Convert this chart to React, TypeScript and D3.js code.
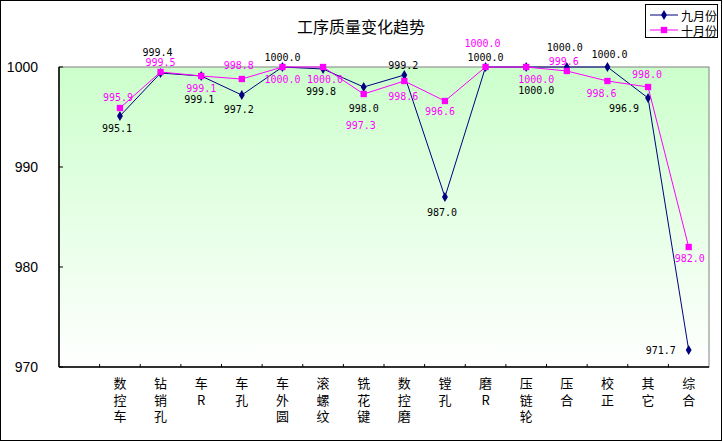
import React, { useEffect, useRef } from "react";
import * as d3 from "d3";

// first slot is empty in the original sheet
const categories = ["", "数控车", "钻销孔", "车R", "车孔", "车外圆", "滚螺纹", "铣花键", "数控磨", "镗孔", "磨R", "压链轮", "压合", "校正", "其它", "综合"];
const septValues = [995.1, 999.4, 999.1, 997.2, 1000.0, 999.8, 998.0, 999.2, 987.0, 1000.0, 1000.0, 1000.0, 1000.0, 996.9, 971.7];
const octValues = [995.9, 999.5, 999.1, 998.8, 1000.0, 1000.0, 997.3, 998.6, 996.6, 1000.0, 1000.0, 999.6, 998.6, 998.0, 982.0];
const yTicks = [970, 980, 990, 1000];
const seriesNames = ["九月份", "十月份"];

// data label offsets from each point (layout only)
const septLabelDx = [-3, -3, -2, -3, 0, -2, 0, -1, -3, 0, 10, -2, 2, -24, -28];
const septLabelDy = [12, -21, 23, 14, -10, 22, 21, -10, 15, -10, 23, -20, -13, 10, 0];
const octLabelDx = [-2, 0, 0, -3, 0, 2, -3, -1, -5, -3, 10, -3, -6, -1, 1];
const octLabelDy = [-11, -10, 12, -14, 12, 12, 31, 15, 10, -24, 12, -10, 12, -13, 11];

const W = 723;
const H = 442;
const plot = { left: 59, right: 709, top: 67, bottom: 367 };
const navy = "#000080";
const pink = "#ff00ff";
const labelFont = "'DejaVu Sans Mono', monospace";
const cjkFont = "'Noto Sans CJK SC', sans-serif";

export default function App() {
  const ref = useRef<SVGSVGElement>(null);

  useEffect(() => {
    const svg = d3.select(ref.current);
    svg.selectAll("*").remove();

    const x = d3.scaleBand().domain(categories).range([plot.left, plot.right]);
    const y = d3.scaleLinear().domain([970, 1000]).range([plot.bottom, plot.top]);
    const cx = (i: number) => (x(categories[i + 1]) as number) + x.bandwidth() / 2;

    svg.append("rect").attr("x", 0).attr("y", 0).attr("width", W).attr("height", H).attr("fill", "#fff");
    svg.append("rect").attr("x", 0.5).attr("y", 0.5).attr("width", W - 2).attr("height", H - 2)
      .attr("fill", "none").attr("stroke", "#000");

    const grad = svg.append("defs").append("linearGradient").attr("id", "bg")
      .attr("x1", 0).attr("y1", 0).attr("x2", 0).attr("y2", 1);
    grad.append("stop").attr("offset", "0%").attr("stop-color", "#ccffcc");
    grad.append("stop").attr("offset", "100%").attr("stop-color", "#ffffff");

    svg.append("rect")
      .attr("x", plot.left).attr("y", plot.top)
      .attr("width", plot.right - plot.left).attr("height", plot.bottom - plot.top)
      .attr("fill", "url(#bg)").attr("stroke", "#808080");

    // axes
    svg.append("line").attr("x1", plot.left).attr("x2", plot.left).attr("y1", plot.top).attr("y2", plot.bottom)
      .attr("stroke", "#000").attr("stroke-width", 1.5);
    svg.append("line").attr("x1", plot.left).attr("x2", plot.right).attr("y1", plot.bottom).attr("y2", plot.bottom)
      .attr("stroke", "#000").attr("stroke-width", 1.5);

    svg.selectAll(".ytick").data(yTicks).enter().append("line")
      .attr("x1", plot.left).attr("x2", plot.left + 4)
      .attr("y1", (d) => y(d)).attr("y2", (d) => y(d)).attr("stroke", "#000");
    svg.selectAll(".ylabel").data(yTicks).enter().append("text")
      .attr("x", 38).attr("y", (d) => y(d)).attr("text-anchor", "end").attr("dominant-baseline", "central")
      .style("font-family", "'Liberation Sans', Arial, sans-serif").style("font-size", "14px")
      .text((d) => d);

    svg.selectAll(".xtick").data(categories.slice(1)).enter().append("line")
      .attr("x1", (d) => x(d) as number).attr("x2", (d) => x(d) as number)
      .attr("y1", plot.bottom).attr("y2", plot.bottom - 3).attr("stroke", "#000");

    const cat = svg.selectAll(".cat").data(categories.slice(1)).enter().append("text")
      .attr("text-anchor", "middle")
      .style("font-family", cjkFont).style("font-size", "13px");
    cat.each(function (d) {
      const t = d3.select(this);
      const xc = (x(d) as number) + x.bandwidth() / 2;
      Array.from(d).forEach((ch, k) => {
        t.append("tspan").attr("x", xc).attr("y", 388 + k * 16.5).text(ch);
      });
    });

    // title
    svg.append("text").attr("x", 361).attr("y", 33).attr("text-anchor", "middle")
      .style("font-family", cjkFont).style("font-size", "16px").text("工序质量变化趋势");

    const line = d3.line<number>().x((d, i) => cx(i)).y((d) => y(d));

    const drawSeries = (vals: number[], color: string, shape: "diamond" | "square") => {
      svg.append("path").attr("d", line(vals)).attr("fill", "none").attr("stroke", color).attr("stroke-width", 1);
      const sym = d3.symbol().type(shape === "diamond" ? d3.symbolDiamond : d3.symbolSquare)
        .size(shape === "diamond" ? 30 : 40);
      svg.selectAll(null).data(vals).enter().append("path")
        .attr("d", sym)
        .attr("transform", (d, i) => `translate(${cx(i)},${y(d)})`)
        .attr("fill", color);
    };

    drawSeries(septValues, navy, "diamond");
    drawSeries(octValues, pink, "square");

    const drawLabels = (vals: number[], color: string, dx: number[], dy: number[]) => {
      svg.selectAll(null).data(vals).enter().append("text")
        .attr("x", (d, i) => cx(i) + dx[i]).attr("y", (d, i) => y(d) + dy[i])
        .attr("text-anchor", "middle").attr("dominant-baseline", "central")
        .attr("fill", color)
        .style("font-family", labelFont).style("font-size", "10px")
        .text((d) => d.toFixed(1));
    };
    drawLabels(septValues, "#000", septLabelDx, septLabelDy);
    drawLabels(octValues, pink, octLabelDx, octLabelDy);

    // legend
    const lg = svg.append("g");
    lg.append("rect").attr("x", 645.5).attr("y", 4.5).attr("width", 72).attr("height", 33)
      .attr("fill", "#fff").attr("stroke", "#000");
    [navy, pink].forEach((c, i) => {
      const ly = 15 + i * 15;
      lg.append("line").attr("x1", 650).attr("x2", 678).attr("y1", ly).attr("y2", ly).attr("stroke", c);
      lg.append("path")
        .attr("d", d3.symbol().type(i === 0 ? d3.symbolDiamond : d3.symbolSquare).size(i === 0 ? 30 : 40)())
        .attr("transform", `translate(664,${ly})`).attr("fill", c);
      lg.append("text").attr("x", 681).attr("y", ly).attr("dominant-baseline", "central")
        .style("font-family", cjkFont).style("font-size", "12px").text(seriesNames[i]);
    });
  }, []);

  return (
    <svg ref={ref} width={W} height={H} style={{ position: "absolute", left: 0, top: 0 }} />
  );
}
